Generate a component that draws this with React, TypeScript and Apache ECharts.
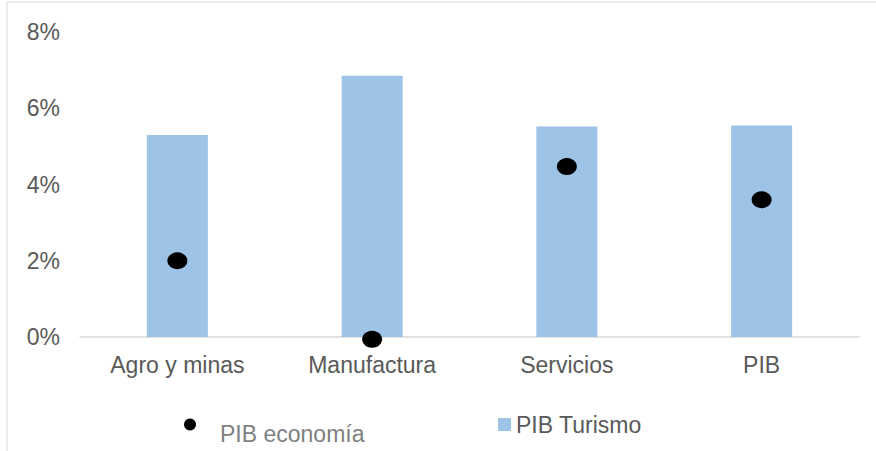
import React, { useEffect, useRef } from "react";
import * as echarts from "echarts";

const categories = ["Agro y minas", "Manufactura", "Servicios", "PIB"];
const pibTurismo = [5.3, 6.85, 5.52, 5.55];
const pibEconomia = [2.0, -0.06, 4.47, 3.6];
const yTicks = { min: 0, max: 8, interval: 2 };

export default function App() {
  const ref = useRef<HTMLDivElement>(null);
  useEffect(() => {
    document.body.style.margin = "0";
    const chart = echarts.init(ref.current!, null, { renderer: "svg" });
    const font = "Liberation Sans, Arial, sans-serif";
    chart.setOption({
      animation: false,
      backgroundColor: "#ffffff",
      textStyle: { fontFamily: font },
      graphic: [
        {
          type: "rect",
          shape: { x: 7, y: 2, width: 900, height: 500 },
          style: { fill: "none", stroke: "#d9d9d9", lineWidth: 1 },
          silent: true,
        },
      ],
      grid: { left: 80, right: 17, top: 32, bottom: 114 },
      legend: [
        {
          // marker of "PIB economía"
          data: [{ name: "PIB economía", icon: "circle" }],
          left: 184,
          top: 418,
          padding: 0,
          itemWidth: 12,
          itemHeight: 13,
          formatter: () => "",
          textStyle: { fontFamily: font, fontSize: 8 },
        },
        {
          // text of "PIB economía" (sits lower than its marker)
          data: [
            { name: "PIB economía", icon: "rect", itemStyle: { opacity: 0 } },
          ],
          left: 215,
          top: 422,
          padding: 0,
          itemWidth: 0,
          itemHeight: 13,
          textStyle: { fontFamily: font, fontSize: 23, color: "#7f7f7f" },
        },
        {
          data: [{ name: "PIB Turismo", icon: "rect" }],
          left: 498,
          top: 413,
          padding: 0,
          itemWidth: 13,
          itemHeight: 13,
          textStyle: { fontFamily: font, fontSize: 23, color: "#595959" },
        },
      ],
      xAxis: {
        type: "category",
        data: categories,
        axisLine: { show: true, lineStyle: { color: "#d9d9d9", width: 1.5 } },
        axisTick: { show: false },
        axisLabel: { fontSize: 23, color: "#595959", margin: 16, fontFamily: font },
        splitLine: { show: false },
      },
      yAxis: {
        type: "value",
        min: yTicks.min,
        max: yTicks.max,
        interval: yTicks.interval,
        axisLine: { show: false },
        axisTick: { show: false },
        splitLine: { show: false },
        axisLabel: {
          formatter: "{value}%",
          fontSize: 23,
          color: "#595959",
          margin: 20,
          fontFamily: font,
        },
      },
      series: [
        {
          name: "PIB Turismo",
          type: "bar",
          data: pibTurismo,
          barWidth: 61,
          itemStyle: { color: "#9dc3e6" },
        },
        {
          name: "PIB economía",
          type: "scatter",
          data: pibEconomia,
          symbol: "circle",
          symbolSize: [20, 17],
          clip: false,
          itemStyle: { color: "#000000", opacity: 1 },
          z: 5,
        },
      ],
    });
    return () => chart.dispose();
  }, []);
  return <div ref={ref} style={{ width: 876, height: 451 }} />;
}
